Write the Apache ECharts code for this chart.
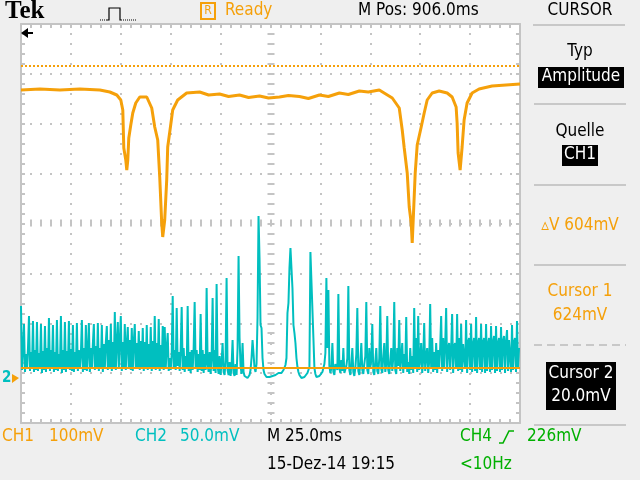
<!DOCTYPE html>
<html><head><meta charset="utf-8">
<script src="https://cdn.jsdelivr.net/npm/echarts@6/dist/echarts.min.js"></script>
<style>html,body{margin:0;padding:0;background:#efefef}#c{width:640px;height:480px}</style>
</head><body><div id="c"></div><script>
// ---------------- data ----------------
// time axis in ms (10 div x 25 ms)
const xTicks = [0, 25, 50, 75, 100, 125, 150, 175, 200, 225, 250];
// CH1 (100 mV/div) : time (ms) and value (mV)
const ch1Time = [0,9.5,19.5,29.5,39.5,44.5,48,50,51,51.5,52.5,53,53.5,54,55,56,57.5,59.5,63,65.5,67,68.5,69.5,70.5,71,72,73,73.5,75,76,78.5,83,89.5,94,99.5,104,109.5,114,119.5,124,129.5,134,139.5,144,149.5,154,159.5,164,169.5,174,179.5,186,189.5,191,192,193.5,194.5,195.5,196,196.5,197.5,198.5,200.5,202,203.5,206,209.5,213.5,216,218,218.5,219,220,221,222,223.5,226,229.5,236,250];
const ch1Values = [576,578,576,578,576,572,566,556,536,460,436,416,436,480,506,530,550,562,562,540,502,476,402,310,282,316,396,462,506,536,556,570,572,566,568,563,566,561,564,560,562,565,563,559,566,563,570,567,574,572,576,560,540,496,460,410,342,310,270,316,410,466,502,530,556,570,574,570,562,542,510,450,416,462,516,550,570,578,584,588];
// CH2 (50 mV/div) : one sample every 0.5 ms, value in mV
const ch2Step = 0.5;
const ch2Values = [
72,8,28,54,6,24,9,30,62,7, 26,10,57,6,28,8,56,7,25,9, 54,5,27,8,52,6,30,9,60,7, 28,10,53,6,26,8,58,7,24,9,
62,5,28,8,56,6,27,9,57,8, 29,7,53,6,26,9,55,7,28,10, 24,58,6,30,8,53,7,26,55,6, 30,9,34,54,8,32,10,55,7,30,
9,53,6,34,10,36,52,8,38,9, 54,7,36,10,66,8,35,56,9,38, 62,7,36,10,54,8,34,51,9,38, 8,50,7,36,54,9,35,10,47,8,
37,9,50,7,36,10,53,8,34,9, 51,7,37,10,62,8,35,9,59,7, 33,10,52,8,51,9,30,45,7,20, 8,24,82,10,28,8,70,12,26,7,
28,71,8,30,6,22,9,72,7,26, 5,28,8,30,76,9,28,6,24,8, 64,7,28,5,24,8,90,14,6,26, 4,20,80,7,28,5,94,12,4,22,
3,16,35,6,3,18,100,8,3,16, 2,12,38,5,2,14,3,30,122,40, 12,4,35,6,2,1,0,0,1,3, 8,20,38,24,10,6,14,60,162,120,
53,50,20,8,4,2,1,1,2,1, 2,1,2,3,2,3,4,3,5,4, 6,5,7,8,10,13,20,65,75,110, 130,128,90,53,45,35,20,11,6,3,
1,0,0,1,1,2,3,5,8,11, 126,128,124,40,10,4,1,0,1,2, 1,3,6,10,14,25,100,30,88,12, 5,10,35,6,3,14,16,8,84,10,
5,18,7,30,5,3,12,20,92,8, 3,14,30,6,2,10,24,70,7,3, 16,35,8,4,14,22,76,8,4,30, 10,18,54,6,3,16,30,7,4,20,
72,9,5,22,35,6,14,62,8,4, 18,30,7,20,76,8,4,30,12,58, 7,20,35,5,24,9,61,6,16,4, 30,8,22,5,70,10,40,6,62,8,
20,35,5,18,55,7,22,30,5,16, 74,9,40,6,26,8,35,5,28,10, 30,62,7,40,9,32,70,6,30,35, 8,28,64,5,32,35,9,64,7,40,
8,54,6,34,35,9,58,5,36,40, 8,54,6,34,40,7,61,5,35,40, 8,54,6,36,40,5,54,7,34,40, 6,52,8,36,42,5,52,7,35,40,
6,51,8,37,42,5,36,48,7,38, 40,6,53,8,36,40,6,57,10,30
];
// cursors (CH1, mV)
const cursor1 = 624;
const cursor2 = 20;

// ---------------- style ----------------
const ORANGE = '#f5a00a', CYAN = '#00bfbf', GREEN = '#00b000', GRID = '#c4c4c4';
const FONT = "'DejaVu Sans Condensed','Liberation Sans Narrow','DejaVu Sans',sans-serif";
const FS = 17;

function frameX(pos, offset, inside, line, split) {
  return {type:'value', min:xTicks[0], max:xTicks[xTicks.length-1], interval:xTicks[1]-xTicks[0],
    position:pos, offset:offset,
    axisLine:{show:line, onZero:false, lineStyle:{color:GRID, width:2}},
    axisTick:{show:true, inside:inside, length:inside?4:3, lineStyle:{color:GRID, width:2}},
    minorTick:{show:true, splitNumber:5, length:inside?4:3, lineStyle:{color:GRID, width:2}},
    axisLabel:{show:false},
    splitLine:{show:split, lineStyle:{color:GRID, width:2, type:[2,8], dashOffset:1}}};
}
function frameY(pos, offset, inside, line, split) {
  return {type:'value', min:-4, max:4, interval:1, position:pos, offset:offset,
    axisLine:{show:line, onZero:false, lineStyle:{color:GRID, width:2}},
    axisTick:{show:true, inside:inside, length:inside?4:3, lineStyle:{color:GRID, width:2}},
    minorTick:{show:true, splitNumber:5, length:inside?4:3, lineStyle:{color:GRID, width:2}},
    axisLabel:{show:false},
    splitLine:{show:split, lineStyle:{color:GRID, width:2, type:[2,8], dashOffset:1}}};
}
function txt(x, y, s, color, o) {
  o = o || {};
  return {type:'text', x:x, y:y, z:50, style:{text:s, fill:color,
    font:(o.weight||'normal')+' '+(o.size||FS)+'px '+(o.family||FONT),
    align:o.align||'left', verticalAlign:'middle'}};
}
function box(x, y, w, h) { return {type:'rect', z:40, shape:{x:x,y:y,width:w,height:h}, style:{fill:'#000'}}; }
function hline(x1, x2, y, dash) {
  return {type:'line', z:40, shape:{x1:x1,y1:y,x2:x2,y2:y}, style:{stroke:'#c8c8c8', lineWidth:2, lineDash:dash||null}};
}

const chart = echarts.init(document.getElementById('c'), null, {renderer:'canvas'});
chart.setOption({
  animation:false,
  backgroundColor:'#efefef',
  grid:{left:21, top:24, width:499, height:399, show:true, backgroundColor:'#ffffff', borderWidth:0},
  xAxis:[ frameX('bottom',0,true,true,true), frameX('top',0,true,true,false),
          frameX('bottom',-199.5,true,false,false), frameX('bottom',-199.5,false,false,false) ],
  yAxis:[ frameY('left',0,true,true,true), frameY('right',0,true,true,false),
          frameY('left',-249.5,true,false,false), frameY('left',-249.5,false,false,false),
          {type:'value', min:-90, max:708, show:false},
          {type:'value', min:-45, max:354, show:false} ],
  series:[
    {type:'line', name:'CH2', xAxisIndex:0, yAxisIndex:5, symbol:'none', z:3,
     data: ch2Values.map((v,i)=>[i*ch2Step, v]),
     lineStyle:{color:CYAN, width:2}},
    {type:'line', name:'CH1', xAxisIndex:0, yAxisIndex:4, symbol:'none', z:4,
     data: ch1Time.map((t,i)=>[t, ch1Values[i]]),
     lineStyle:{color:ORANGE, width:3},
     markLine:{silent:true, symbol:'none', label:{show:false},
       data:[{yAxis:cursor1, lineStyle:{color:ORANGE, width:2, type:[2,2]}},
             {yAxis:cursor2, lineStyle:{color:ORANGE, width:2, type:'solid'}}]}}
  ],
  graphic:[
    // header
    txt(5, 12, 'Tek', '#000', {size:25, weight:'bold', family:"'Liberation Serif','DejaVu Serif',serif"}),
    {type:'polyline', z:40, shape:{points:[[100,20],[107,20]]}, style:{stroke:'#000', lineWidth:1, lineDash:[1,1]}},
    {type:'polyline', z:40, shape:{points:[[107,20],[109,20],[109,8],[120,8],[120,20],[122,20]]}, style:{stroke:'#000', lineWidth:1.2, fill:null}},
    {type:'polyline', z:40, shape:{points:[[123,20],[137,20]]}, style:{stroke:'#000', lineWidth:1, lineDash:[1,1]}},
    {type:'rect', z:40, shape:{x:201,y:3,width:14,height:16}, style:{fill:null, stroke:ORANGE, lineWidth:2}},
    txt(208, 11, 'R', ORANGE, {size:12, align:'center'}),
    txt(225, 11, 'Ready', ORANGE),
    txt(358, 11, 'M Pos: 906.0ms', '#000'),
    txt(580, 11, 'CURSOR', '#000', {align:'center'}),
    hline(533, 625, 25),
    // trigger position marker
    {type:'polygon', z:40, shape:{points:[[21,33],[28,28],[28,38]]}, style:{fill:'#000'}},
    {type:'rect', z:40, shape:{x:27,y:32,width:6,height:2}, style:{fill:'#000'}},
    // ground marker
    txt(2, 378, '2', CYAN, {size:15, weight:'bold'}),
    {type:'polygon', z:40, shape:{points:[[12,374],[19,378],[12,383]]}, style:{fill:ORANGE}},
    // right panel
    txt(580, 52, 'Typ', '#000', {align:'center'}),
    box(538, 67, 86, 21), txt(581, 77, 'Amplitude', '#fff', {align:'center'}),
    hline(534, 626, 104),
    txt(580, 132, 'Quelle', '#000', {align:'center'}),
    box(562, 145, 36, 21), txt(580, 155, 'CH1', '#fff', {align:'center'}),
    hline(534, 626, 185),
    txt(580, 226, '\u25B5V 604mV', ORANGE, {align:'center'}),
    hline(534, 626, 265),
    txt(580, 292, 'Cursor 1', ORANGE, {align:'center'}),
    txt(580, 316, '624mV', ORANGE, {align:'center'}),
    hline(534, 626, 345, [8,5]),
    box(546, 362, 70, 48),
    txt(581, 374, 'Cursor 2', '#fff', {align:'center'}),
    txt(581, 397, '20.0mV', '#fff', {align:'center'}),
    hline(534, 626, 425),
    // bottom status
    txt(2, 437, 'CH1', ORANGE), txt(49, 437, '100mV', ORANGE),
    txt(135, 437, 'CH2', CYAN), txt(180, 437, '50.0mV', CYAN),
    txt(267, 437, 'M 25.0ms', '#000'),
    txt(460, 437, 'CH4', GREEN),
    {type:'polyline', z:40, shape:{points:[[499,443],[503,443],[509,431],[514,431]]}, style:{stroke:GREEN, lineWidth:1.6, fill:null}},
    txt(527, 437, '226mV', GREEN),
    txt(267, 465, '15-Dez-14 19:15', '#000'),
    txt(460, 465, '<10Hz', GREEN)
  ]
});
</script></body></html>
